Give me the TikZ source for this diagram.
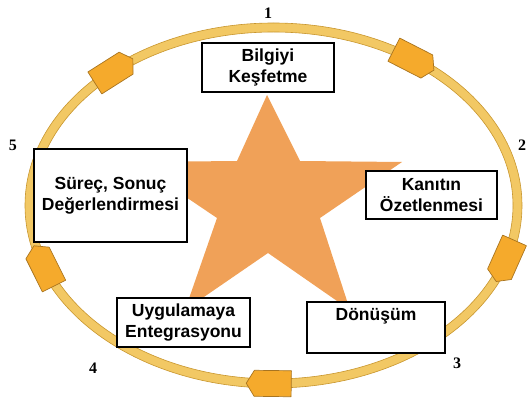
\documentclass[tikz,border=0pt]{standalone}
\usepackage{fontspec}
\setmainfont{Liberation Sans}
\newfontfamily\rakamfont{Liberation Serif}
\definecolor{halka}{HTML}{F2C864}
\definecolor{halkakenar}{HTML}{C8962E}
\definecolor{okrenk}{HTML}{F5AA2C}
\definecolor{okkenar}{HTML}{A87420}
\definecolor{yildiz}{HTML}{F0A158}
\tikzset{
  kutu/.style={draw=black, line width=1.4pt, fill=white, inner sep=0pt, align=center,
    font=\bfseries\fontsize{17.5}{20.5}\selectfont},
  ok/.style={fill=okrenk, draw=okkenar, line width=0.7pt, line join=round},
  rakam/.style={font=\rakamfont\bfseries\fontsize{16}{18}\selectfont}
}
\begin{document}
\begin{tikzpicture}[x=1pt,y=-1pt]
	\useasboundingbox (0,0) rectangle (527,398);
	\coordinate (m) at (273.5,205.5);
	\filldraw[fill=halka, draw=halkakenar, line width=0.6pt, even odd rule] (m) ellipse [x radius=248.5, y radius=182.5] (m) ellipse [x radius=239.5, y radius=173.5]; % halka
	% oklar
	\foreach \t in {131,55,-18,-91,-160}{
		\pgfmathsetmacro\px{273.5+244*cos(\t)}
		\pgfmathsetmacro\py{205.5-178*sin(\t)}
		\pgfmathsetmacro\ang{atan2(-178*cos(\t),244*sin(\t))}
		\filldraw[ok, shift={(\px,\py)}, rotate=\ang] (-22,-13) -- (15,-13) -- (23,0) -- (15,13) -- (-22,13) -- cycle;
	}
	% yildiz
	\fill[yildiz] (267,95) -- (300,161) -- (402,162) -- (320,218) -- (350,310) -- (268,253) -- (185,310) -- (217,218) -- (134,162) -- (237,161) -- cycle;
	% kutular
	\node[kutu, minimum width=132, minimum height=49] (bilgi) at (268,67.5) {Bilgiyi\\Keşfetme};
	\node[kutu, minimum width=131, minimum height=48] (kanit) at (431.5,195) {Kanıtın\\Özetlenmesi};
	\node[kutu, minimum width=138, minimum height=51] (donusum) at (376,327.5) {Dönüşüm\\\strut};
	\node[kutu, minimum width=133, minimum height=49] (uygulama) at (183.5,322.5) {Uygulamaya\\Entegrasyonu};
	\node[kutu, minimum width=153, minimum height=93] (surec) at (110.5,195.5) {Süreç, Sonuç\\Değerlendirmesi};
	% numaralar
	\node[rakam] (n1) at (268,13) {1};
	\node[rakam] (n2) at (522,145) {2};
	\node[rakam] (n3) at (457,363) {3};
	\node[rakam] (n4) at (93,368) {4};
	\node[rakam] (n5) at (13,145) {5};
\end{tikzpicture}
\end{document}
